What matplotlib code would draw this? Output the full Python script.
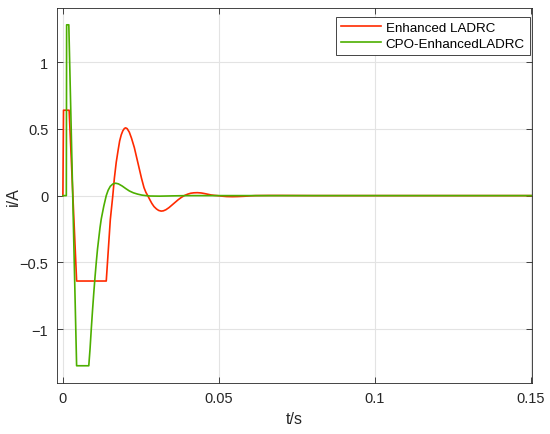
import matplotlib.pyplot as plt

plt.rcParams['font.family'] = ['Liberation Sans', 'DejaVu Sans']

# Enhanced LADRC
t_red = [0, 0.0002, 0.002, 0.0044, 0.0139, 0.0152, 0.016, 0.0165, 0.0171, 0.0177,
         0.0182, 0.0187, 0.0192, 0.0197, 0.0201, 0.0206, 0.0213, 0.022, 0.0229,
         0.0237, 0.0245, 0.0252, 0.026, 0.0266, 0.0272, 0.0279, 0.0285, 0.0292,
         0.030, 0.0307, 0.0315, 0.0322, 0.033, 0.034, 0.035, 0.036, 0.037, 0.038,
         0.0389, 0.040, 0.041, 0.042, 0.0431, 0.0443, 0.0455, 0.0465, 0.0475,
         0.0485, 0.0495, 0.051, 0.0525, 0.0543, 0.056, 0.058, 0.06, 0.0617,
         0.066, 0.07, 0.08, 0.151]
i_red = [0, 0.64, 0.64, -0.64, -0.64, -0.18, 0.0, 0.13, 0.25, 0.34,
         0.41, 0.455, 0.485, 0.503, 0.508, 0.502, 0.475, 0.43, 0.36,
         0.28, 0.2, 0.13, 0.06, 0.025, 0.0, -0.032, -0.058, -0.082,
         -0.100, -0.111, -0.116, -0.114, -0.106, -0.09, -0.07, -0.05, -0.03, -0.013,
         0.0, 0.011, 0.018, 0.021, 0.022, 0.02, 0.015, 0.01, 0.005,
         0.002, 0.0, -0.004, -0.007, -0.008, -0.007, -0.005, -0.002, 0.0,
         0.001, 0.001, 0.0, 0.0]

# CPO-EnhancedLADRC
t_green = [0, 0.0011, 0.0012, 0.0019, 0.0044, 0.0083, 0.0087, 0.0091, 0.0095,
           0.0099, 0.0103, 0.0107, 0.0111, 0.0115, 0.0119, 0.0123, 0.0131,
           0.0139, 0.0145, 0.0152, 0.016, 0.0169, 0.0178, 0.019, 0.0202,
           0.0213, 0.0226, 0.024, 0.0253, 0.0266, 0.028, 0.031, 0.035, 0.04, 0.151]
i_green = [0, 0, 1.28, 1.28, -1.275, -1.275, -1.15, -1.0, -0.86,
           -0.73, -0.61, -0.5, -0.4, -0.32, -0.24, -0.175, -0.08,
           0.0, 0.04, 0.07, 0.087, 0.093, 0.088, 0.072, 0.052,
           0.035, 0.021, 0.011, 0.004, 0.0, -0.003, -0.004, -0.002, 0.0, 0.0]

xticks = [0, 0.05, 0.1, 0.15]
xtick_labels = ['0', '0.05', '0.1', '0.15']
yticks = [-1, -0.5, 0, 0.5, 1]
ytick_labels = ['\u22121', '\u22120.5', '0', '0.5', '1']

fig = plt.figure(figsize=(5.5, 4.35), dpi=100)
ax = fig.add_axes([0.103, 0.117, 0.865, 0.862])

ax.plot(t_red, i_red, color='#FF2A00', lw=1.2, label='Enhanced LADRC')
ax.plot(t_green, i_green, color='#4DAF00', lw=1.2, label='CPO-EnhancedLADRC')

ax.set_xlim(-0.002, 0.1505)
ax.set_ylim(-1.405, 1.405)
ax.set_xticks(xticks)
ax.set_xticklabels(xtick_labels)
ax.set_yticks(yticks)
ax.set_yticklabels(ytick_labels)
ax.grid(True, color='#E3E3E3', lw=0.8)
ax.set_axisbelow(True)

for s in ax.spines.values():
    s.set_color('#262626')
    s.set_linewidth(0.6)
ax.tick_params(direction='in', top=True, right=True, length=4, width=0.6,
               colors='#262626', labelsize=10.5, pad=6)

ax.set_xlabel('t/s', fontsize=11.5, color='#262626', labelpad=4)
ax.set_ylabel('i/A', fontsize=11.5, color='#262626', labelpad=-1)

leg = ax.legend(loc='upper right', bbox_to_anchor=(0.994, 0.977), borderaxespad=0,
                fontsize=9.6, frameon=True, fancybox=False,
                edgecolor='#262626', framealpha=1, handlelength=3.0,
                labelspacing=0.3, borderpad=0.35, handletextpad=0.35)
leg.get_frame().set_linewidth(0.6)

fig.savefig('out.png', dpi=100)
